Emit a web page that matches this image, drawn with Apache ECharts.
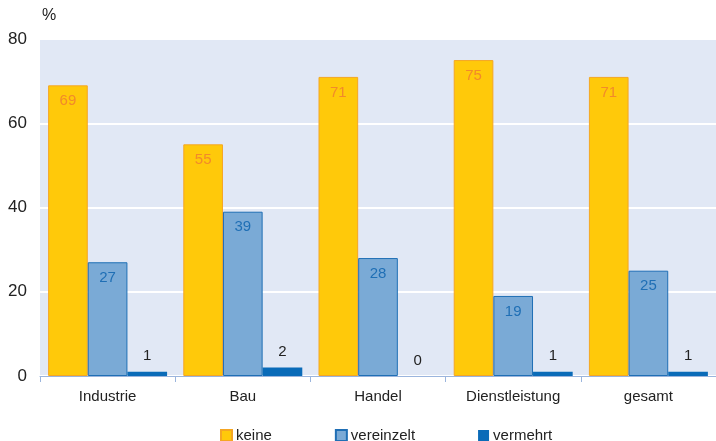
<!DOCTYPE html>
<html><head><meta charset="utf-8">
<script src="https://cdn.jsdelivr.net/npm/echarts@6/dist/echarts.min.js"></script>
<style>html,body{margin:0;padding:0;background:#fff}#c{width:716px;height:441px}</style>
</head><body><div id="c"></div>
<script>
const categories = ['Industrie', 'Bau', 'Handel', 'Dienstleistung', 'gesamt'];
const keine = [69, 55, 71, 75, 71];
const vereinzelt = [27, 39, 28, 19, 25];
const vermehrt = [1, 2, 0, 1, 1];
const seriesNames = ['keine', 'vereinzelt', 'vermehrt'];
const yTicks = [0, 20, 40, 60, 80];

const FONT = 'Liberation Sans, Arial, sans-serif';
const chart = echarts.init(document.getElementById('c'), null, {renderer: 'canvas'});
chart.setOption({
  animation: false,
  textStyle: {fontFamily: FONT},
  grid: {left: 40, right: 0, top: 39, bottom: 65, show: true, backgroundColor: '#e1e8f5', borderWidth: 0},
  graphic: [{type: 'text', left: 42, top: 8, style: {text: '%', font: '16px ' + FONT, fill: '#222'}}],
  legend: {
    top: 423, left: 215, itemWidth: 11, itemHeight: 11, itemGap: 63,
    textStyle: {fontSize: 15, color: '#222', fontFamily: FONT, padding: [0, 0, 0, -1]},
    data: seriesNames.map(n => ({name: n, icon: 'rect'}))
  },
  xAxis: {
    type: 'category', data: categories,
    axisLine: {lineStyle: {color: '#9bb5dd', width: 1}},
    axisTick: {show: true, length: 6, lineStyle: {color: '#9bb5dd'}},
    axisLabel: {fontSize: 15, color: '#222', margin: 13, fontFamily: FONT}
  },
  yAxis: {
    type: 'value', min: yTicks[0], max: yTicks[yTicks.length - 1], interval: 20,
    axisLine: {show: false}, axisTick: {show: false},
    axisLabel: {fontSize: 17, color: '#222', margin: 13, fontFamily: FONT},
    splitLine: {lineStyle: {color: '#ffffff', width: 2}}
  },
  series: [
    {name: 'keine', type: 'bar', data: keine, barGap: '0%', barCategoryGap: '12%',
     itemStyle: {color: '#ffc90a', borderColor: '#f5a623', borderWidth: 1},
     label: {show: true, position: 'insideTop', distance: 8, fontSize: 15, color: '#f28a2a', fontFamily: FONT}},
    {name: 'vereinzelt', type: 'bar', data: vereinzelt, barGap: '0%', barCategoryGap: '12%',
     itemStyle: {color: '#7aaad6', borderColor: '#1f6fb5', borderWidth: 1},
     label: {show: true, position: 'insideTop', distance: 8, fontSize: 15, color: '#1f6fb5', fontFamily: FONT}},
    {name: 'vermehrt', type: 'bar', data: vermehrt, barGap: '0%', barCategoryGap: '12%',
     itemStyle: {color: '#0a6bb8'},
     label: {show: true, position: 'top', distance: 8, fontSize: 15, color: '#222', fontFamily: FONT}}
  ]
});
</script></body></html>
